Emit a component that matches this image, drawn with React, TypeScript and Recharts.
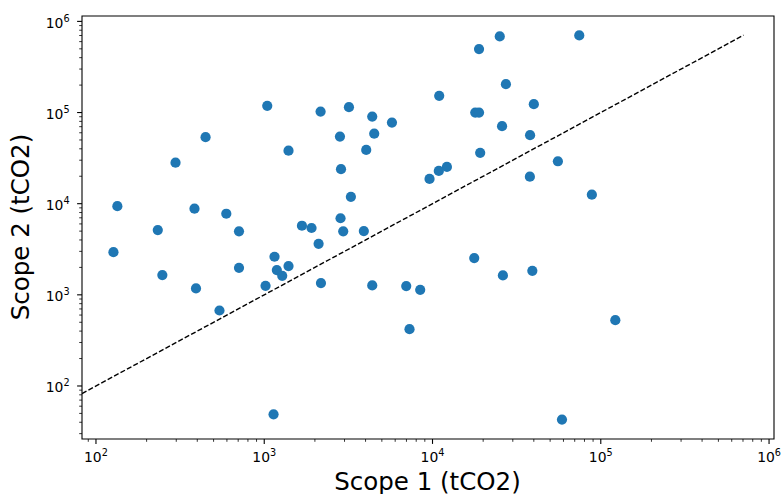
import { ScatterChart, Scatter, XAxis, YAxis, ReferenceLine, ReferenceArea } from "recharts";

// Scope 1 / Scope 2 emissions per company (tCO2)
const scope1 = [
  127, 134, 233, 297, 448, 385, 595, 708, 1042, 1394,
  1675, 1910, 2104, 2162, 3187, 2818, 2859, 3273, 2840, 2947,
  3907, 4036, 4383, 4504, 5740, 10960, 18900, 25100, 74500, 27300,
  17950, 18900, 40000, 25900, 38000, 19200, 55600, 12180, 10900, 9600,
  37900, 88500, 17700, 26200, 39200, 6980, 8450, 7300, 122000, 58800,
  248, 393, 542, 708, 1018, 1151, 1188, 1279, 1394, 2173,
  4383, 1136,
];
const scope2 = [
  2940, 9400, 5140, 28200, 53700, 8810, 7760, 4980, 118600, 38200,
  5730, 5410, 3630, 102500, 114600, 54500, 23900, 11900, 6920, 4970,
  5010, 38900, 90400, 58700, 77600, 152500, 497000, 684000, 702000, 205000,
  100000, 100000, 123600, 70800, 56500, 36100, 29200, 25300, 22900, 18700,
  19800, 12560, 2530, 1633, 1836, 1247, 1135, 420, 527, 42.8,
  1646, 1175, 673, 1980, 1256, 2617, 1867, 1617, 2067, 1345,
  1268, 48.9,
];

const majorTicks = [1e2, 1e3, 1e4, 1e5, 1e6];
const tickExponents = ["2", "3", "4", "5", "6"];
const decades = [1e1, 1e2, 1e3, 1e4, 1e5];
const mantissas = [2, 3, 4, 5, 6, 7, 8, 9];

const XMIN = 82.6;
const XMAX = 1.07e6;
const YMIN = 26.2;
const YMAX = 1.146e6;
const LINE_END = 7.05e5;

const FONT = "DejaVu Sans, sans-serif";
const DOT = "#1f77b4";

const data = scope1.map((s1, i) => ({ s1, s2: scope2[i] }));

function withMinors(min: number, max: number) {
  const minors = decades.flatMap((d) => mantissas.map((m) => m * d));
  return [...majorTicks, ...minors].filter((v) => v >= min && v <= max).sort((a, b) => a - b);
}

const xTicks = withMinors(XMIN, XMAX);
const yTicks = withMinors(YMIN, YMAX);

function XTick({ x, y, payload }: any) {
  const i = majorTicks.indexOf(payload.value);
  if (i < 0) {
    return <line x1={x} x2={x} y1={y} y2={y + 2.8} stroke="#000" strokeWidth={0.8} />;
  }
  return (
    <g>
      <line x1={x} x2={x} y1={y} y2={y + 4.9} stroke="#000" strokeWidth={1.1} />
      <text x={x} y={y + 23.3} textAnchor="middle" fontSize={13.9} fontFamily={FONT} fill="#000">
        10<tspan dy={-6} fontSize={9.7}>{tickExponents[i]}</tspan>
      </text>
    </g>
  );
}

function YTick({ x, y, payload }: any) {
  const i = majorTicks.indexOf(payload.value);
  if (i < 0) {
    return <line x1={x} x2={x - 2.8} y1={y} y2={y} stroke="#000" strokeWidth={0.8} />;
  }
  return (
    <g>
      <line x1={x} x2={x - 4.9} y1={y} y2={y} stroke="#000" strokeWidth={1.1} />
      <text x={x - 12.4} y={y + 6.3} textAnchor="end" fontSize={13.9} fontFamily={FONT} fill="#000">
        10<tspan dy={-6} fontSize={9.7}>{tickExponents[i]}</tspan>
      </text>
    </g>
  );
}

export default function App() {
  return (
    <div style={{ position: "absolute", left: 0, top: 0, background: "#fff" }}>
      <ScatterChart width={781} height={494} margin={{ top: 16, right: 7, bottom: 0, left: 0 }}>
        <XAxis
          dataKey="s1"
          type="number"
          scale="log"
          domain={[XMIN, XMAX]}
          allowDataOverflow
          ticks={xTicks}
          interval={0}
          tick={<XTick />}
          tickSize={0}
          tickMargin={0}
          tickLine={false}
          axisLine={false}
          height={55}
          label={() => (
            <text x={427.5} y={489.5} textAnchor="middle" fontSize={24.5} fontFamily={FONT} fill="#000">
              Scope 1 (tCO2)
            </text>
          )}
        />
        <YAxis
          dataKey="s2"
          type="number"
          scale="log"
          domain={[YMIN, YMAX]}
          allowDataOverflow
          ticks={yTicks}
          interval={0}
          tick={<YTick />}
          tickSize={0}
          tickMargin={0}
          tickLine={false}
          axisLine={false}
          width={82}
          label={() => (
            <text
              x={29}
              y={227}
              transform="rotate(-90 29 227)"
              textAnchor="middle"
              fontSize={24.5}
              fontFamily={FONT}
              fill="#000"
            >
              Scope 2 (tCO2)
            </text>
          )}
        />
        <ReferenceArea
          x1={XMIN}
          x2={XMAX}
          y1={YMIN}
          y2={YMAX}
          fill="none"
          stroke="#000"
          strokeWidth={1.1}
          ifOverflow="visible"
        />
        <ReferenceLine
          segment={[
            { x: XMIN, y: XMIN },
            { x: LINE_END, y: LINE_END },
          ]}
          stroke="#000"
          strokeWidth={1.4}
          strokeDasharray="5.1 2.2"
        />
        <Scatter
          data={data}
          isAnimationActive={false}
          shape={(p: any) => <circle cx={p.cx} cy={p.cy} r={5.1} fill={DOT} />}
        />
      </ScatterChart>
    </div>
  );
}
